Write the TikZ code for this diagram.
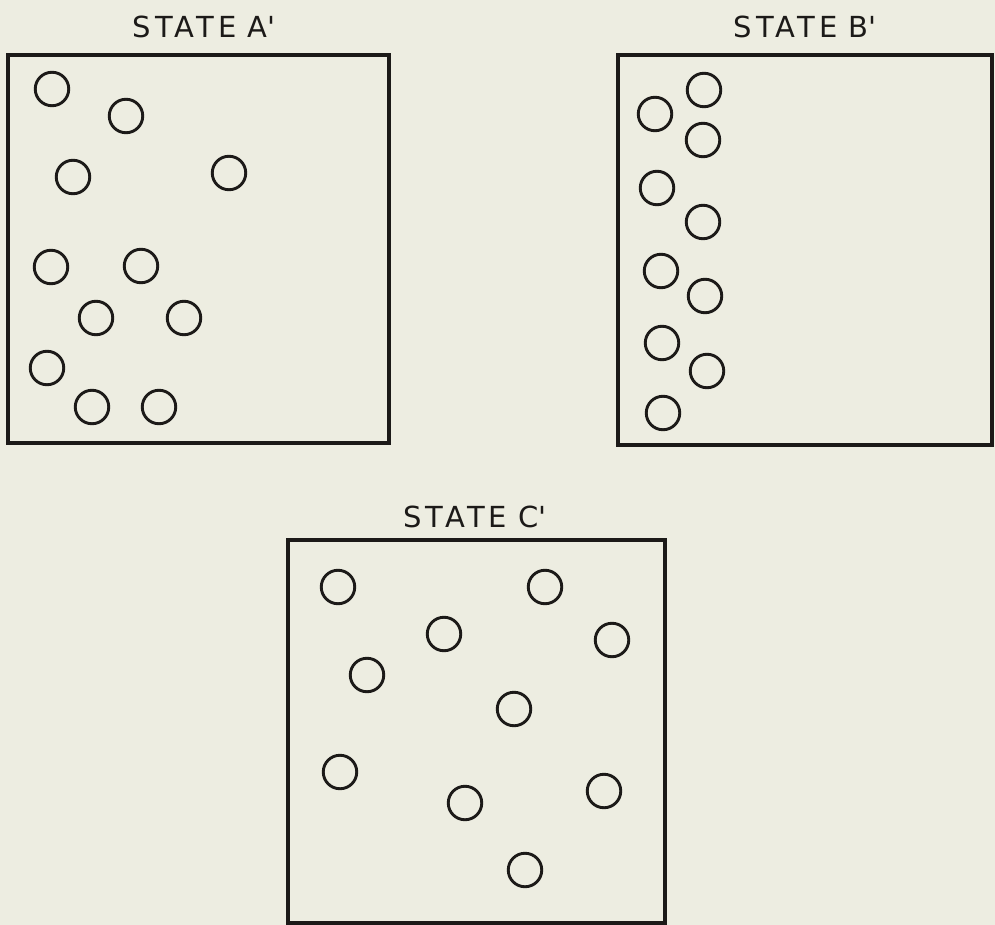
\documentclass[tikz,border=0pt]{standalone}
\usepackage{fontspec}
\setmainfont{DejaVu Sans}[LetterSpace=14]
\definecolor{paper}{RGB}{237,237,225}
\definecolor{ink}{RGB}{28,26,24}
\begin{document}
\begin{tikzpicture}[x=1pt,y=-1pt,
  panel/.style={draw=ink,line width=3.4pt,rectangle,inner sep=0pt},
  ball/.style={draw=ink,line width=2.9pt,circle,inner sep=0pt,minimum size=33.5pt},
  caption/.style={text=ink,font=\fontsize{29}{29}\selectfont,anchor=base,inner sep=0pt}]
% page
\fill[paper] (0,0) rectangle (995,925);
\useasboundingbox (0,0) rectangle (995,925);

% captions
\node[caption] (tA) at (204,37.5) {STATE\hspace{11pt}A\textquotesingle};
\node[caption] (tB) at (805,37.5) {STATE\hspace{11pt}B\textquotesingle};
\node[caption] (tC) at (475,527.5) {STATE\hspace{11pt}C\textquotesingle};

% containers
\node[panel,minimum width=381pt,minimum height=388pt] (boxA) at (198.5,249) {};
\node[panel,minimum width=374pt,minimum height=390pt] (boxB) at (805,250) {};
\node[panel,minimum width=377pt,minimum height=383pt] (boxC) at (476.5,731.5) {};

% state A'
\node[ball] (a1) at (52,89) {};
\node[ball] (a2) at (126,116) {};
\node[ball] (a3) at (73,177) {};
\node[ball] (a4) at (229,173) {};
\node[ball] (a5) at (51,267) {};
\node[ball] (a6) at (141,266) {};
\node[ball] (a7) at (96,318) {};
\node[ball] (a8) at (184,318) {};
\node[ball] (a9) at (47,368) {};
\node[ball] (a10) at (92,407) {};
\node[ball] (a11) at (159,407) {};

% state B'
\node[ball] (b1) at (704,90) {};
\node[ball] (b2) at (655,114) {};
\node[ball] (b3) at (703,140) {};
\node[ball] (b4) at (657,188) {};
\node[ball] (b5) at (703,222) {};
\node[ball] (b6) at (661,271) {};
\node[ball] (b7) at (705,296) {};
\node[ball] (b8) at (662,343) {};
\node[ball] (b9) at (707,371) {};
\node[ball] (b10) at (663,413) {};

% state C'
\node[ball] (c1) at (338,587) {};
\node[ball] (c2) at (545,587) {};
\node[ball] (c3) at (444,634) {};
\node[ball] (c4) at (612,640) {};
\node[ball] (c5) at (367,675) {};
\node[ball] (c6) at (514,709) {};
\node[ball] (c7) at (340,772) {};
\node[ball] (c8) at (465,803) {};
\node[ball] (c9) at (604,791) {};
\node[ball] (c10) at (525,870) {};
\end{tikzpicture}
\end{document}
